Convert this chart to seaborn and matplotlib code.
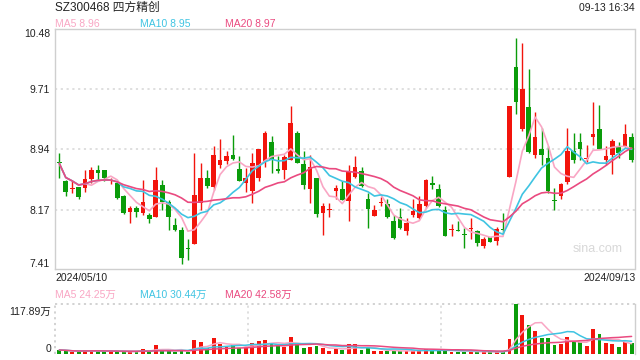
import numpy as np
import pandas as pd
import matplotlib
matplotlib.use("Agg")
import matplotlib.pyplot as plt
import seaborn as sns

# ---------------- data ----------------
opens = [8.78, 8.53, 8.43, 8.455, 8.44, 8.56, 8.67, 8.68, 8.53, 8.51,
         8.34, 8.14, 8.19, 8.13, 8.10, 8.08, 8.49, 8.27, 7.97, 7.91,
         7.68, 7.73, 8.25, 8.58, 8.46, 8.74, 8.79, 8.87, 8.69, 8.51,
         8.41, 8.58, 8.78, 9.04, 8.69, 8.67, 8.81, 9.15, 8.75, 8.43,
         8.58, 8.12, 8.16, 8.41, 8.43, 8.28, 8.59, 8.66, 8.30, 8.09,
         8.25, 8.24, 8.03, 8.07, 7.90, 8.10, 8.06, 8.22, 8.51, 8.43,
         8.16, 7.91, 7.91, 7.86, 7.92, 7.90, 7.71, 7.82, 7.77, 7.92,
         8.59, 9.99, 9.20, 9.48, 8.87, 8.95, 8.83, 8.29, 8.35, 8.52,
         8.92, 9.03, 8.82, 9.10, 9.20, 8.80, 8.87, 8.98, 8.98, 9.10]
highs = [8.89, 8.55, 8.53, 8.463, 8.67, 8.72, 8.74, 8.68, 8.57, 8.53,
         8.36, 8.21, 8.22, 8.55, 8.13, 8.72, 8.55, 8.29, 8.06, 7.95,
         7.80, 8.89, 8.76, 8.68, 8.98, 9.07, 8.92, 9.12, 8.86, 8.70,
         8.89, 8.94, 9.18, 9.11, 8.85, 8.87, 9.49, 9.18, 8.92, 8.87,
         8.58, 8.26, 8.26, 8.49, 8.53, 8.74, 8.86, 8.72, 8.38, 8.23,
         8.33, 8.30, 8.10, 8.19, 8.06, 8.30, 8.34, 8.56, 8.60, 8.50,
         8.22, 7.99, 8.02, 7.93, 8.06, 7.91, 7.82, 7.82, 7.95, 8.13,
         9.49, 10.37, 10.30, 9.97, 9.42, 9.22, 8.98, 8.44, 8.51, 9.22,
         9.15, 9.15, 9.00, 9.55, 9.51, 8.98, 9.07, 9.04, 9.27, 9.15]
lows = [8.57, 8.34, 8.38, 8.30, 8.40, 8.51, 8.53, 8.53, 8.50, 8.31,
        8.11, 8.00, 8.08, 8.10, 8.00, 8.08, 8.17, 7.91, 7.90, 7.48,
        7.52, 7.73, 8.17, 8.44, 8.42, 8.70, 8.75, 8.80, 8.53, 8.39,
        8.25, 8.53, 8.72, 8.64, 8.64, 8.56, 8.81, 8.76, 8.43, 8.25,
        8.08, 7.85, 8.08, 8.31, 8.29, 8.02, 8.57, 8.46, 7.93, 8.09,
        8.21, 8.06, 7.80, 7.92, 7.85, 8.07, 8.05, 8.19, 8.43, 8.20,
        7.83, 7.83, 7.89, 7.68, 7.80, 7.70, 7.68, 7.75, 7.72, 7.87,
        8.59, 9.39, 9.17, 8.89, 8.83, 8.74, 8.38, 8.17, 8.31, 8.50,
        8.76, 8.80, 8.78, 9.00, 8.95, 8.74, 8.63, 8.83, 8.97, 8.78]
closes = [8.76, 8.40, 8.45, 8.33, 8.56, 8.67, 8.64, 8.58, 8.54, 8.32,
          8.12, 8.19, 8.14, 8.27, 8.05, 8.55, 8.27, 8.07, 7.91, 7.55,
          7.67, 8.36, 8.58, 8.47, 8.87, 8.81, 8.86, 8.82, 8.54, 8.58,
          8.77, 8.94, 9.15, 8.80, 8.66, 8.84, 9.28, 8.77, 8.49, 8.72,
          8.11, 8.22, 8.17, 8.44, 8.29, 8.66, 8.72, 8.47, 8.18, 8.17,
          8.26, 8.08, 7.81, 7.94, 8.00, 8.15, 8.24, 8.55, 8.48, 8.22,
          7.83, 7.92, 7.89, 7.85, 7.93, 7.74, 7.80, 7.76, 7.92, 7.91,
          9.49, 9.55, 9.71, 8.91, 9.10, 8.87, 8.41, 8.28, 8.50, 8.92,
          8.80, 8.95, 8.83, 9.14, 8.95, 8.86, 9.05, 8.89, 9.14, 8.80]
volumes = [9.4, 8.0, 5.5, 5.5, 8.0, 8.0, 8.0, 5.5, 5.5, 5.5,
           5.5, 5.5, 5.5, 11.8, 5.5, 21.0, 9.0, 6.3, 5.5, 9.4,
           5.5, 33.0, 27.5, 13.4, 37.0, 22.8, 19.6, 20.4, 14.0, 14.0,
           25.0, 30.7, 33.0, 25.0, 19.6, 17.3, 40.9, 25.0, 14.0, 17.3,
           19.6, 14.0, 6.0, 11.0, 9.4, 22.8, 22.8, 10.0, 14.0, 6.3,
           6.3, 6.3, 9.4, 8.0, 6.3, 6.3, 9.4, 11.8, 9.4, 9.4,
           9.4, 5.5, 5.5, 5.5, 6.3, 5.5, 4.0, 4.0, 4.0, 6.3,
           35.0, 117.89, 92.0, 68.4, 54.0, 38.5, 38.5, 21.0, 22.8, 41.0,
           27.5, 27.5, 19.6, 58.0, 46.0, 25.0, 24.0, 16.0, 29.0, 27.0]

price_ticks = [7.41, 8.17, 8.94, 9.71, 10.48]
price_tick_labels = ["7.41", "8.17", "8.94", "9.71", "10.48"]
vol_max = 117.89
title_text = "SZ300468 四方精创"
time_text = "09-13 16:34"
start_date = "2024/05/10"
end_date = "2024/09/13"
ma_price_labels = ["MA5 8.96", "MA10 8.95", "MA20 8.97"]
ma_vol_labels = ["MA5 24.25万", "MA10 30.44万", "MA20 42.58万"]

# ---------------- style ----------------
sns.set_theme(style="white")
plt.rcParams["font.family"] = ["Liberation Sans", "Noto Sans CJK SC", "DejaVu Sans"]

RED = "#f2140c"
GREEN = "#0a9c0a"
MA5C = "#f9a6c4"
MA10C = "#3fc4e2"
MA20C = "#ea4a80"
BORDER = "#cfcfcf"
GRID = "#dcdcdc"
TXT = "#222222"

df = pd.DataFrame({"o": opens, "h": highs, "l": lows, "c": closes, "v": volumes})
df["i"] = np.arange(len(df))
df["up"] = df["c"] >= df["o"]
df["col"] = np.where(df["up"], RED, GREEN)
for n in (5, 10, 20):
    df[f"ma{n}"] = df["c"].rolling(n, min_periods=1).mean()
    df[f"vma{n}"] = df["v"].rolling(n, min_periods=1).mean()

W, H = 640, 360
fig = plt.figure(figsize=(6.4, 3.6), dpi=100)
fig.patch.set_facecolor("white")

def fx(x):
    return x / W

def fy(y):
    return 1 - y / H

x_left, x_right = 54.7, 634.5
ax = fig.add_axes([fx(x_left), fy(269), fx(x_right - x_left), (269 - 29) / H])
axv = fig.add_axes([fx(x_left), fy(354), fx(x_right - x_left), (354 - 304) / H])

xlim = (-0.72, 89.45)

# ---------- main price panel ----------
ax.set_facecolor("white")
for yv in price_ticks[1:-1]:
    ax.axhline(yv, color=GRID, lw=1.3, ls=(0, (1.2, 2.0)), zorder=0)

ax.vlines(df["i"], df["l"], df["h"], colors=df["col"], lw=1.0, zorder=2)
body_h = np.maximum((df["c"] - df["o"]).abs(), 0.012)
body_b = np.minimum(df["o"], df["c"])
ax.bar(df["i"], body_h, bottom=body_b, width=0.72, color=df["col"], lw=0, zorder=3)

sns.lineplot(x=df["i"], y=df["ma5"], ax=ax, color=MA5C, lw=1.2, zorder=4)
sns.lineplot(x=df["i"], y=df["ma10"], ax=ax, color=MA10C, lw=1.2, zorder=4)
sns.lineplot(x=df["i"], y=df["ma20"], ax=ax, color=MA20C, lw=1.2, zorder=4)

ax.set_xlim(*xlim)
ax.set_ylim(price_ticks[0], price_ticks[-1])
ax.set_xticks([])
ax.set_yticks(price_ticks)
ax.set_yticklabels(price_tick_labels, fontsize=7.5, color=TXT)
ax.tick_params(axis="y", length=0, pad=3.5)
labels = ax.get_yticklabels()
labels[0].set_va("bottom")
labels[-1].set_va("top")
ax.set_xlabel("")
ax.set_ylabel("")
for s in ax.spines.values():
    s.set_color(BORDER)
    s.set_linewidth(1.0)
    s.set_visible(True)

ax.text(0.937, 0.085, "sina.com", transform=ax.transAxes, ha="center", va="center",
        fontsize=9, color="#d8d8d8", zorder=1)

# ---------- volume panel ----------
axv.set_facecolor("white")
axv.bar(df["i"], df["v"], width=0.6, color=df["col"], lw=0, zorder=2)
sns.lineplot(x=df["i"], y=df["vma5"], ax=axv, color=MA5C, lw=1.1, zorder=3)
sns.lineplot(x=df["i"], y=df["vma10"], ax=axv, color=MA10C, lw=1.1, zorder=3)
sns.lineplot(x=df["i"], y=df["vma20"], ax=axv, color=MA20C, lw=1.1, zorder=3)
axv.set_xlim(*xlim)
axv.set_ylim(0, vol_max)
axv.set_xticks([])
axv.set_yticks([])
axv.set_xlabel("")
axv.set_ylabel("")
for k in ("left", "top", "bottom"):
    axv.spines[k].set_visible(False)
axv.spines["right"].set_color(BORDER)
axv.spines["right"].set_linewidth(1.0)
dot = (0, (1.2, 2.0))
axv.axhline(vol_max, color=BORDER, lw=1.3, ls=dot, clip_on=False, zorder=1)
axv.axvline(xlim[0], color=BORDER, lw=1.3, ls=dot, clip_on=False, zorder=1)
for frac in (1 / 3, 2 / 3):
    axv.axvline(xlim[0] + frac * (xlim[1] - xlim[0]), color=GRID, lw=1.3, ls=dot, zorder=1)

# ---------- texts ----------
fig.text(fx(55), fy(7.5), title_text, ha="left", va="center", fontsize=8.5, color=TXT)
fig.text(fx(634.5), fy(8), time_text, ha="right", va="center", fontsize=7.5, color=TXT)
for lbl, xx, cc in zip(ma_price_labels, (55, 140, 225), (MA5C, MA10C, MA20C)):
    fig.text(fx(xx), fy(24), lbl, ha="left", va="center", fontsize=7.5, color=cc)
fig.text(fx(55), fy(278), start_date, ha="left", va="center", fontsize=7.5, color=TXT)
fig.text(fx(636), fy(278), end_date, ha="right", va="center", fontsize=7.5, color=TXT)
for lbl, xx, cc in zip(ma_vol_labels, (55, 140, 225), (MA5C, MA10C, MA20C)):
    fig.text(fx(xx), fy(295), lbl, ha="left", va="center", fontsize=7.5, color=cc)
fig.text(fx(51), fy(312), f"{vol_max:.2f}万", ha="right", va="center", fontsize=7.5, color=TXT)
fig.text(fx(51), fy(349), "0", ha="right", va="center", fontsize=7.5, color=TXT)

fig.savefig("out.png", dpi=100, facecolor="white")
